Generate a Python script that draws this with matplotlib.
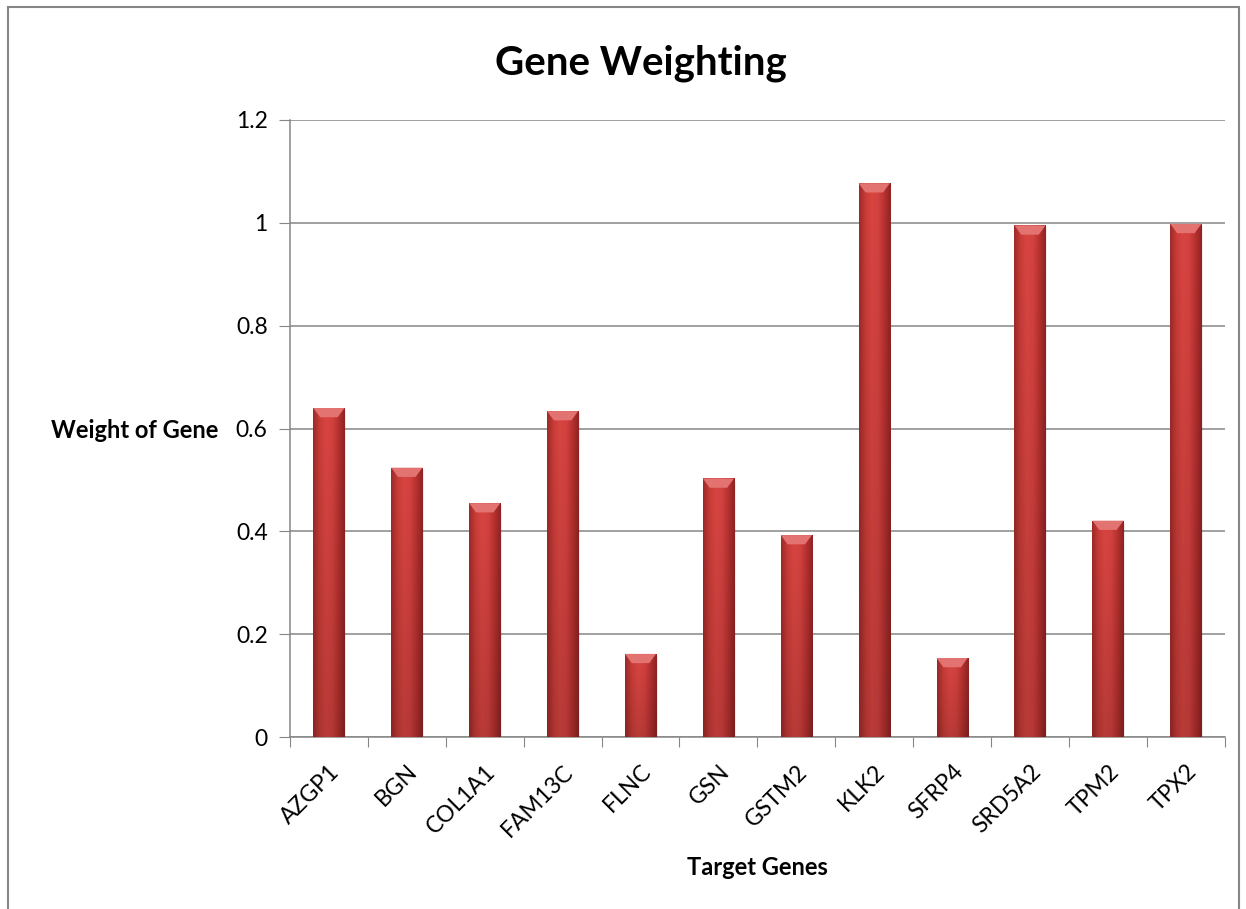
import numpy as np
import matplotlib.pyplot as plt
import matplotlib.transforms as mtransforms
from matplotlib.patches import Rectangle, Polygon
from matplotlib.colors import LinearSegmentedColormap

# Gene weights
genes = ["AZGP1", "BGN", "COL1A1", "FAM13C", "FLNC", "GSN",
         "GSTM2", "KLK2", "SFRP4", "SRD5A2", "TPM2", "TPX2"]
weights = [0.640, 0.524, 0.455, 0.634, 0.162, 0.503,
           0.393, 1.077, 0.154, 0.995, 0.421, 0.998]

plt.rcParams["font.family"] = ["Lato", "DejaVu Sans"]

fig = plt.figure(figsize=(12.46, 9.09), dpi=100)
ax = fig.add_axes([0.2327, 0.189, 0.7503, 0.679])

x = np.arange(len(genes))
bars = ax.bar(x, weights, width=0.40, color="#c53a36", zorder=3)

# horizontal shading for the bar body
shade = LinearSegmentedColormap.from_list(
    "shade", ["#9e2a28", "#c93c38", "#d94541", "#d34240", "#b8312f", "#8e2424"])
grad = np.linspace(0, 1, 64).reshape(1, -1)
vert = np.linspace(0.85, 1.0, 64).reshape(-1, 1)
for b in bars:
    x0, w, h = b.get_x(), b.get_width(), b.get_height()
    rgb = shade(grad)[..., :3] * vert[..., None]
    im = ax.imshow(rgb, extent=(x0, x0 + w, 0, h), origin="lower",
                   aspect="auto", zorder=4, interpolation="bilinear")
    im.set_clip_path(b)
    # light bevel at the top of each bar
    bh = 0.018
    ax.add_patch(Polygon([(x0, h), (x0 + w, h), (x0 + w * 0.78, h - bh),
                          (x0 + w * 0.22, h - bh)],
                         closed=True, facecolor="#e27370", edgecolor="none",
                         zorder=5))
    # soft drop shadow
    ax.add_patch(Rectangle((x0 + 0.02, -0.004), w, h, facecolor="#000000",
                           alpha=0.08, edgecolor="none", zorder=2))

ax.set_xlim(-0.5, len(genes) - 0.5)
ax.set_ylim(0, 1.2)
ax.set_yticks(np.arange(0, 1.21, 0.2))
ax.set_yticklabels(["0", "0.2", "0.4", "0.6", "0.8", "1", "1.2"], fontsize=16.5)

# category boundaries as tick marks, labels at centers
ax.set_xticks(np.arange(-0.5, len(genes), 1.0))
ax.set_xticklabels([])
ax.set_xticks(x, minor=True)
ax.set_xticklabels(genes, minor=True, rotation=45, ha="right",
                   va="top", rotation_mode="anchor", fontsize=16.5)
shift = mtransforms.ScaledTranslation(-5 / 100, 0, fig.dpi_scale_trans)
for lbl in ax.get_xticklabels(minor=True):
    lbl.set_transform(lbl.get_transform() + shift)
ax.tick_params(axis="x", which="minor", length=0, pad=17)
ax.tick_params(axis="x", which="major", length=7, color="#868686", direction="out")
ax.tick_params(axis="y", length=8, color="#868686", direction="out", pad=8)

ax.grid(axis="y", color="#868686", linewidth=1.1, zorder=0)
ax.set_axisbelow(True)
for side in ["top", "right"]:
    ax.spines[side].set_visible(False)
for side in ["left", "bottom"]:
    ax.spines[side].set_color("#868686")
    ax.spines[side].set_linewidth(1.1)

fig.text(0.514, 1 - 75 / 909, "Gene Weighting", fontsize=29,
         fontweight="bold", ha="center", va="baseline")
ax.set_xlabel("Target Genes", fontsize=17, fontweight="bold", va="center")
ax.xaxis.set_label_coords(0.5, -0.211)
ax.set_ylabel("Weight of Gene", fontsize=17, fontweight="bold",
              rotation=0, ha="right", va="center")
ax.yaxis.set_label_coords(-0.077, 0.4976)

# chart border
fig.patches.append(Rectangle((8 / 1246, -0.01), 1231 / 1246, 1.0 - 7 / 909 + 0.01,
                             transform=fig.transFigure, fill=False,
                             edgecolor="#868686", linewidth=1.5))

fig.savefig("out.png", dpi=100, facecolor="white")
